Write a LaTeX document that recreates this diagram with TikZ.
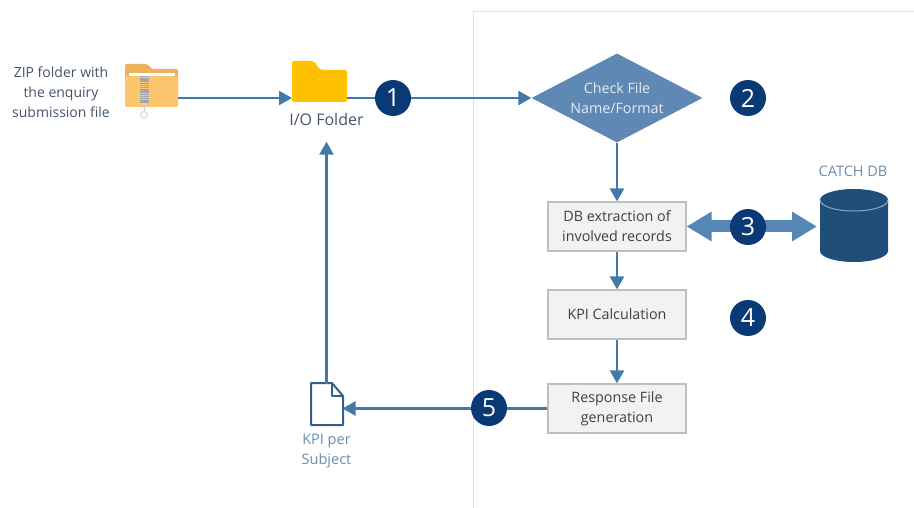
\documentclass[tikz,border=0pt]{standalone}
\usepackage{fontspec}
\setmainfont{Open Sans}
\usetikzlibrary{arrows.meta,shapes.geometric}

\definecolor{flowblue}{HTML}{4279AB}
\definecolor{diamondblue}{HTML}{6088B4}
\definecolor{badgeblue}{HTML}{0A3A75}
\definecolor{dbblue}{HTML}{1F4E79}
\definecolor{slatetext}{HTML}{44546A}
\definecolor{softblue}{HTML}{6A8CAF}
\definecolor{zipback}{HTML}{EDB25C}
\definecolor{zipfront}{HTML}{FCC66F}
\definecolor{iofolder}{HTML}{FFC000}
\definecolor{iocrease}{HTML}{F0B400}

\tikzset{
	flowarrow/.style = {draw=flowblue, line width=2.4pt, -{Triangle[length=13pt,width=14pt,fill=flowblue]}},
	procbox/.style = {draw=black!25, line width=1.2pt, fill=black!5, minimum width=138, minimum height=49, align=center, font=\fontsize{14.3}{20}\selectfont, text=black!75},
	badge/.style = {circle, fill=badgeblue, text=white, minimum size=36, inner sep=0pt, font=\fontsize{25}{25}\selectfont},
	icon/.style = {inner sep=0pt, outer sep=0pt},
	caption/.style = {align=center, font=\fontsize{14}{20}\selectfont, text=slatetext},
}

\begin{document}
\begin{tikzpicture}[x=1pt,y=-1pt]
\useasboundingbox (0,0) rectangle (914,508);

% panel
\draw[black!12,line width=1pt] (914,12) -- (473,12) -- (473,508);

% zip folder
\fill[rounded corners=1.5pt,zipback] (125,107) -- (125,64) -- (147,64) -- (152,69) -- (178,69) -- (178,107) -- cycle;
\fill[rounded corners=1.5pt,zipfront] (125,76) -- (178,76) -- (178,107) -- (125,107) -- cycle;
\fill[white] (129,73) rectangle (175,76);
\draw[black!35,line width=9pt,dash pattern=on 1.5pt off .7pt] (144,76) -- (144,103);
\draw[black!20,line width=1pt] (144,103) -- (144,112);
\draw[black!15,line width=1pt] (144,115) circle (3.5pt);

% i/o folder
\fill[rounded corners=2pt,iofolder] (292,102) -- (292,61) -- (314,61) -- (320,70) -- (347,70) -- (347,102) -- cycle;
\draw[iocrease,line width=.6pt] (292,80) -- (312,80) -- (320,74) -- (347,74);

% document
\draw[flowblue!80!black,line width=2pt,line join=round] (311,383) -- (332,383) -- (343,396) -- (343,425) -- (311,425) -- cycle;
\draw[flowblue!80!black,line width=2pt,line join=round] (332,383) -- (332,396) -- (343,396);

% database
\fill[dbblue] (820,200) arc[start angle=180,end angle=0,x radius=34pt,y radius=11pt] -- (888,251) arc[start angle=0,end angle=-180,x radius=34pt,y radius=11pt] -- cycle;
\draw[black!10!flowblue!60!white,line width=1pt] (820,200) arc[start angle=180,end angle=360,x radius=34pt,y radius=11pt];

\node[icon,minimum width=53,minimum height=43] (zip) at (151.5,98) {};
\node[icon,minimum width=55,minimum height=42] (io) at (319.5,98) {};
\node[icon,minimum width=32,minimum height=50] (doc) at (326.5,408.5) {};
\node[icon,minimum width=68,minimum height=73] (db) at (854,226.5) {};

\node[caption] (ziplabel) at (61,92) {ZIP folder with\\the enquiry\\submission file};
\node[caption,font=\fontsize{16}{16}\selectfont] (iolabel) at (326.5,120) {I/O Folder};
\node[caption,text=softblue,font=\fontsize{14.5}{20}\selectfont] (dblabel) at (853,171) {CATCH DB};
\node[caption,text=softblue,font=\fontsize{14.5}{20}\selectfont] (kpilabel) at (326.5,451) {KPI per\\Subject};

\node[diamond,aspect=1.92,fill=diamondblue,inner sep=0pt,minimum width=171,minimum height=89,align=center,text=white!85!flowblue,font=\fontsize{14.3}{20}\selectfont] (check) at (617,98) {Check File\\Name/Format};
\node[procbox] (extract) at (617,226.5) {DB extraction of\\involved records};
\node[procbox] (calc) at (617,314.5) {KPI Calculation};
\node[procbox] (response) at (617,408.5) {Response File\\generation};

\draw[flowarrow] (zip.east) -- (io.west);
\draw[flowarrow] (io.east) -- (check.west);
\draw[flowarrow] (check.south) -- (extract.north);
\draw[flowarrow] (extract.south) -- (calc.north);
\draw[flowarrow] (calc.south) -- (response.north);
\draw[flowarrow] (response.west) -- (doc.east);
\draw[flowarrow,shorten >=12pt] (doc.north) -- (iolabel.south);
\draw[flowblue!90!white,line width=12pt,shorten >=3pt,{Triangle[length=25pt,width=28pt]}-{Triangle[length=25pt,width=28pt]}] (extract.east) -- (db.west);

\foreach \n/\x/\y in {1/393/98,2/748/98,3/748/227,4/748/318,5/489/408}
	\node[badge] (badge\n) at (\x,\y) {\n};

\end{tikzpicture}
\end{document}
